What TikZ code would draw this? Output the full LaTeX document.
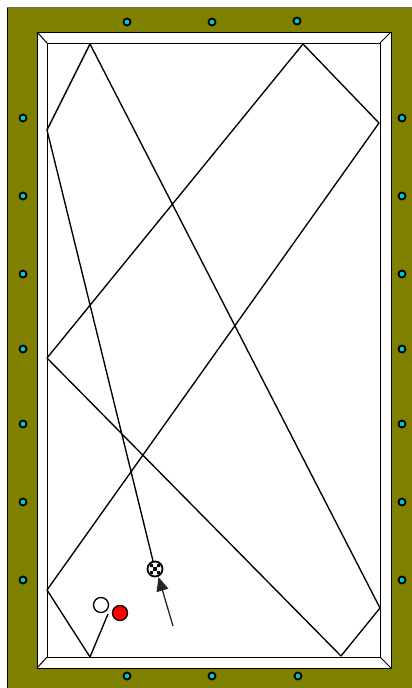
\documentclass[tikz,border=0pt]{standalone}
\usetikzlibrary{arrows.meta}
\definecolor{felt}{RGB}{128,128,0}
\definecolor{sightfill}{RGB}{0,200,215}
\tikzset{
  x=1pt,y=-1pt,
  edgeline/.style={draw=black,line width=1pt},
  track/.style={draw=black,line width=1.35pt,line join=round},
  sight/.style={circle,draw=black,fill=sightfill,line width=1.8pt,minimum size=7pt,inner sep=0pt},
  ball/.style={circle,draw=black,line width=1.3pt,minimum size=15pt,inner sep=0pt},
}
\begin{document}
\begin{tikzpicture}
\useasboundingbox (0,0) rectangle (412,688);
\fill[white] (0,0) rectangle (412,688);
\fill[felt] (7,7) rectangle (412,688);
\draw[black,line width=1.6pt] (7.3,688) -- (7.3,7.3);
\draw[black!60,line width=.7pt] (7.3,7.3) -- (412,7.3);
% cushion
\filldraw[fill=white,edgeline] (37,32) rectangle (391,668);
\draw[edgeline] (47,43) rectangle (380,657);
\draw[edgeline] (37,32) -- (47,43) (391,32) -- (380,43) (37,668) -- (47,657) (391,668) -- (380,657);
% sights
\foreach \n/\px/\py in {t1/127/22,t2/212/22,t3/297/21,b1/127/676,b2/212/676,b3/298/676,
  l1/23/118,l2/23/196,l3/23/274,l4/23/349,l5/23/424,l6/23/502,l7/23/580,
  r1/402/118,r2/402/196,r3/402/274,r4/402/349,r5/402/424,r6/402/502,r7/402/580}
  \node[sight] (\n) at (\px,\py) {};
% balls
\node[ball,fill=white] (white) at (101,605) {};
\node[ball,fill=red] (red) at (120,613) {};
\node[ball,fill=white,line width=1.8pt] (cue) at (155,569) {};
\fill[black] (153,567) rectangle (157,571);
\fill[black] (150,564) rectangle (153,567) (157,564) rectangle (160,567)
  (150,571) rectangle (153,574) (157,571) rectangle (160,574);
% ball path
\coordinate (p0) at (108,614);
\coordinate (p1) at (90,657);
\coordinate (p2) at (47,590);
\coordinate (p3) at (379,123);
\coordinate (p4) at (303,44);
\coordinate (p5) at (47,358);
\coordinate (p6) at (341,656);
\coordinate (p7) at (380,608);
\coordinate (p8) at (90,44);
\coordinate (p9) at (47,130);
\draw[track] (p0) -- (p1) -- (p2) -- (p3) -- (p4) -- (p5) -- (p6) -- (p7) -- (p8) -- (p9) -- (cue);
% arrow
\coordinate (a0) at (173,626);
\coordinate (a1) at (158.5,577);
\draw[black!85,line width=1.3pt,-{Triangle[length=14pt,width=12pt]}] (a0) -- (a1);
\end{tikzpicture}
\end{document}
